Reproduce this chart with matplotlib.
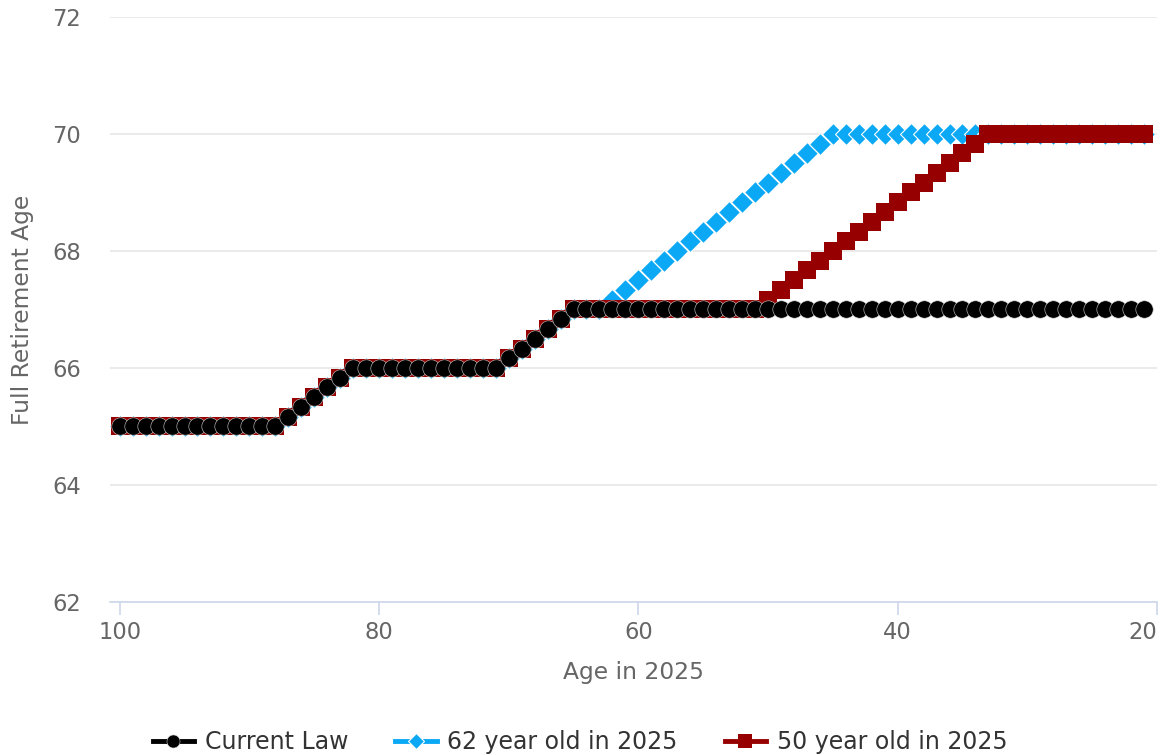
import matplotlib.pyplot as plt

ages = list(range(100, 20, -1))

current_law = [65.0, 65.0, 65.0, 65.0, 65.0, 65.0, 65.0, 65.0, 65.0, 65.0,
               65.0, 65.0, 65.0, 65.17, 65.33, 65.5, 65.67, 65.83, 66.0, 66.0,
               66.0, 66.0, 66.0, 66.0, 66.0, 66.0, 66.0, 66.0, 66.0, 66.0,
               66.17, 66.33, 66.5, 66.67, 66.83, 67.0, 67.0, 67.0, 67.0, 67.0,
               67.0, 67.0, 67.0, 67.0, 67.0, 67.0, 67.0, 67.0, 67.0, 67.0,
               67.0, 67.0, 67.0, 67.0, 67.0, 67.0, 67.0, 67.0, 67.0, 67.0,
               67.0, 67.0, 67.0, 67.0, 67.0, 67.0, 67.0, 67.0, 67.0, 67.0,
               67.0, 67.0, 67.0, 67.0, 67.0, 67.0, 67.0, 67.0, 67.0, 67.0]

age_62_in_2025 = [65.0, 65.0, 65.0, 65.0, 65.0, 65.0, 65.0, 65.0, 65.0, 65.0,
                  65.0, 65.0, 65.0, 65.17, 65.33, 65.5, 65.67, 65.83, 66.0, 66.0,
                  66.0, 66.0, 66.0, 66.0, 66.0, 66.0, 66.0, 66.0, 66.0, 66.0,
                  66.17, 66.33, 66.5, 66.67, 66.83, 67.0, 67.0, 67.0, 67.17, 67.33,
                  67.5, 67.67, 67.83, 68.0, 68.17, 68.33, 68.5, 68.67, 68.83, 69.0,
                  69.17, 69.33, 69.5, 69.67, 69.83, 70.0, 70.0, 70.0, 70.0, 70.0,
                  70.0, 70.0, 70.0, 70.0, 70.0, 70.0, 70.0, 70.0, 70.0, 70.0,
                  70.0, 70.0, 70.0, 70.0, 70.0, 70.0, 70.0, 70.0, 70.0, 70.0]

age_50_in_2025 = [65.0, 65.0, 65.0, 65.0, 65.0, 65.0, 65.0, 65.0, 65.0, 65.0,
                  65.0, 65.0, 65.0, 65.17, 65.33, 65.5, 65.67, 65.83, 66.0, 66.0,
                  66.0, 66.0, 66.0, 66.0, 66.0, 66.0, 66.0, 66.0, 66.0, 66.0,
                  66.17, 66.33, 66.5, 66.67, 66.83, 67.0, 67.0, 67.0, 67.0, 67.0,
                  67.0, 67.0, 67.0, 67.0, 67.0, 67.0, 67.0, 67.0, 67.0, 67.0,
                  67.17, 67.33, 67.5, 67.67, 67.83, 68.0, 68.17, 68.33, 68.5, 68.67,
                  68.83, 69.0, 69.17, 69.33, 69.5, 69.67, 69.83, 70.0, 70.0, 70.0,
                  70.0, 70.0, 70.0, 70.0, 70.0, 70.0, 70.0, 70.0, 70.0, 70.0]

x_ticks = [100, 80, 60, 40, 20]
y_ticks = [62, 64, 66, 68, 70, 72]


def main():
    plt.rcParams['font.family'] = ['DejaVu Sans']
    fig = plt.figure(figsize=(11.6, 7.55), dpi=100)
    ax = fig.add_axes([0.0948, 0.2026, 0.9026, 0.775])

    ax.plot(ages, age_62_in_2025, c="#0aa8f5", lw=3.5, marker="D", ms=11,
            mec="white", mew=0.8, label="62 year old in 2025", zorder=2)
    ax.plot(ages, age_50_in_2025, c="#960000", lw=3.5, marker="s", ms=12.5,
            mew=0, label="50 year old in 2025", zorder=3)
    ax.plot(ages, current_law, c="black", lw=3.5, marker="o", ms=12.5,
            mec="#d0d0d0", mew=0.4, label="Current Law", zorder=4)

    ax.set_xlim(100.75, 20)
    ax.set_ylim(62, 72)
    ax.set_xticks(x_ticks)
    ax.set_yticks(y_ticks)
    ax.grid(axis="y", color="#e6e6e6", lw=1.2)
    ax.set_axisbelow(True)
    for side in ["left", "right", "top"]:
        ax.spines[side].set_visible(False)
    ax.spines["bottom"].set_color("#ccd6eb")
    ax.spines["bottom"].set_linewidth(1.2)
    ax.tick_params(axis="x", colors="#ccd6eb", length=9, width=1.2, pad=5,
                   labelcolor="#666666", labelsize=16.3)
    ax.tick_params(axis="y", length=0, pad=21, labelcolor="#666666", labelsize=16.3)
    ax.get_xticklabels()[-1].set_horizontalalignment("right")
    ax.set_xlabel("Age in 2025", fontsize=16.8, color="#666666", labelpad=12)
    ax.set_ylabel("Full Retirement Age", fontsize=16.8, color="#666666", labelpad=13)

    handles, labels = ax.get_legend_handles_labels()
    order = [2, 0, 1]
    fig.legend([handles[i] for i in order], [labels[i] for i in order],
               loc="center", bbox_to_anchor=(0.5, 1 - 742 / 755), ncol=3,
               frameon=False, fontsize=17, handlelength=1.75, columnspacing=2.0,
               handletextpad=0.45, markerscale=0.75, labelcolor="#333333")

    plt.savefig("out.png", dpi=100)


if __name__ == '__main__':
    main()
